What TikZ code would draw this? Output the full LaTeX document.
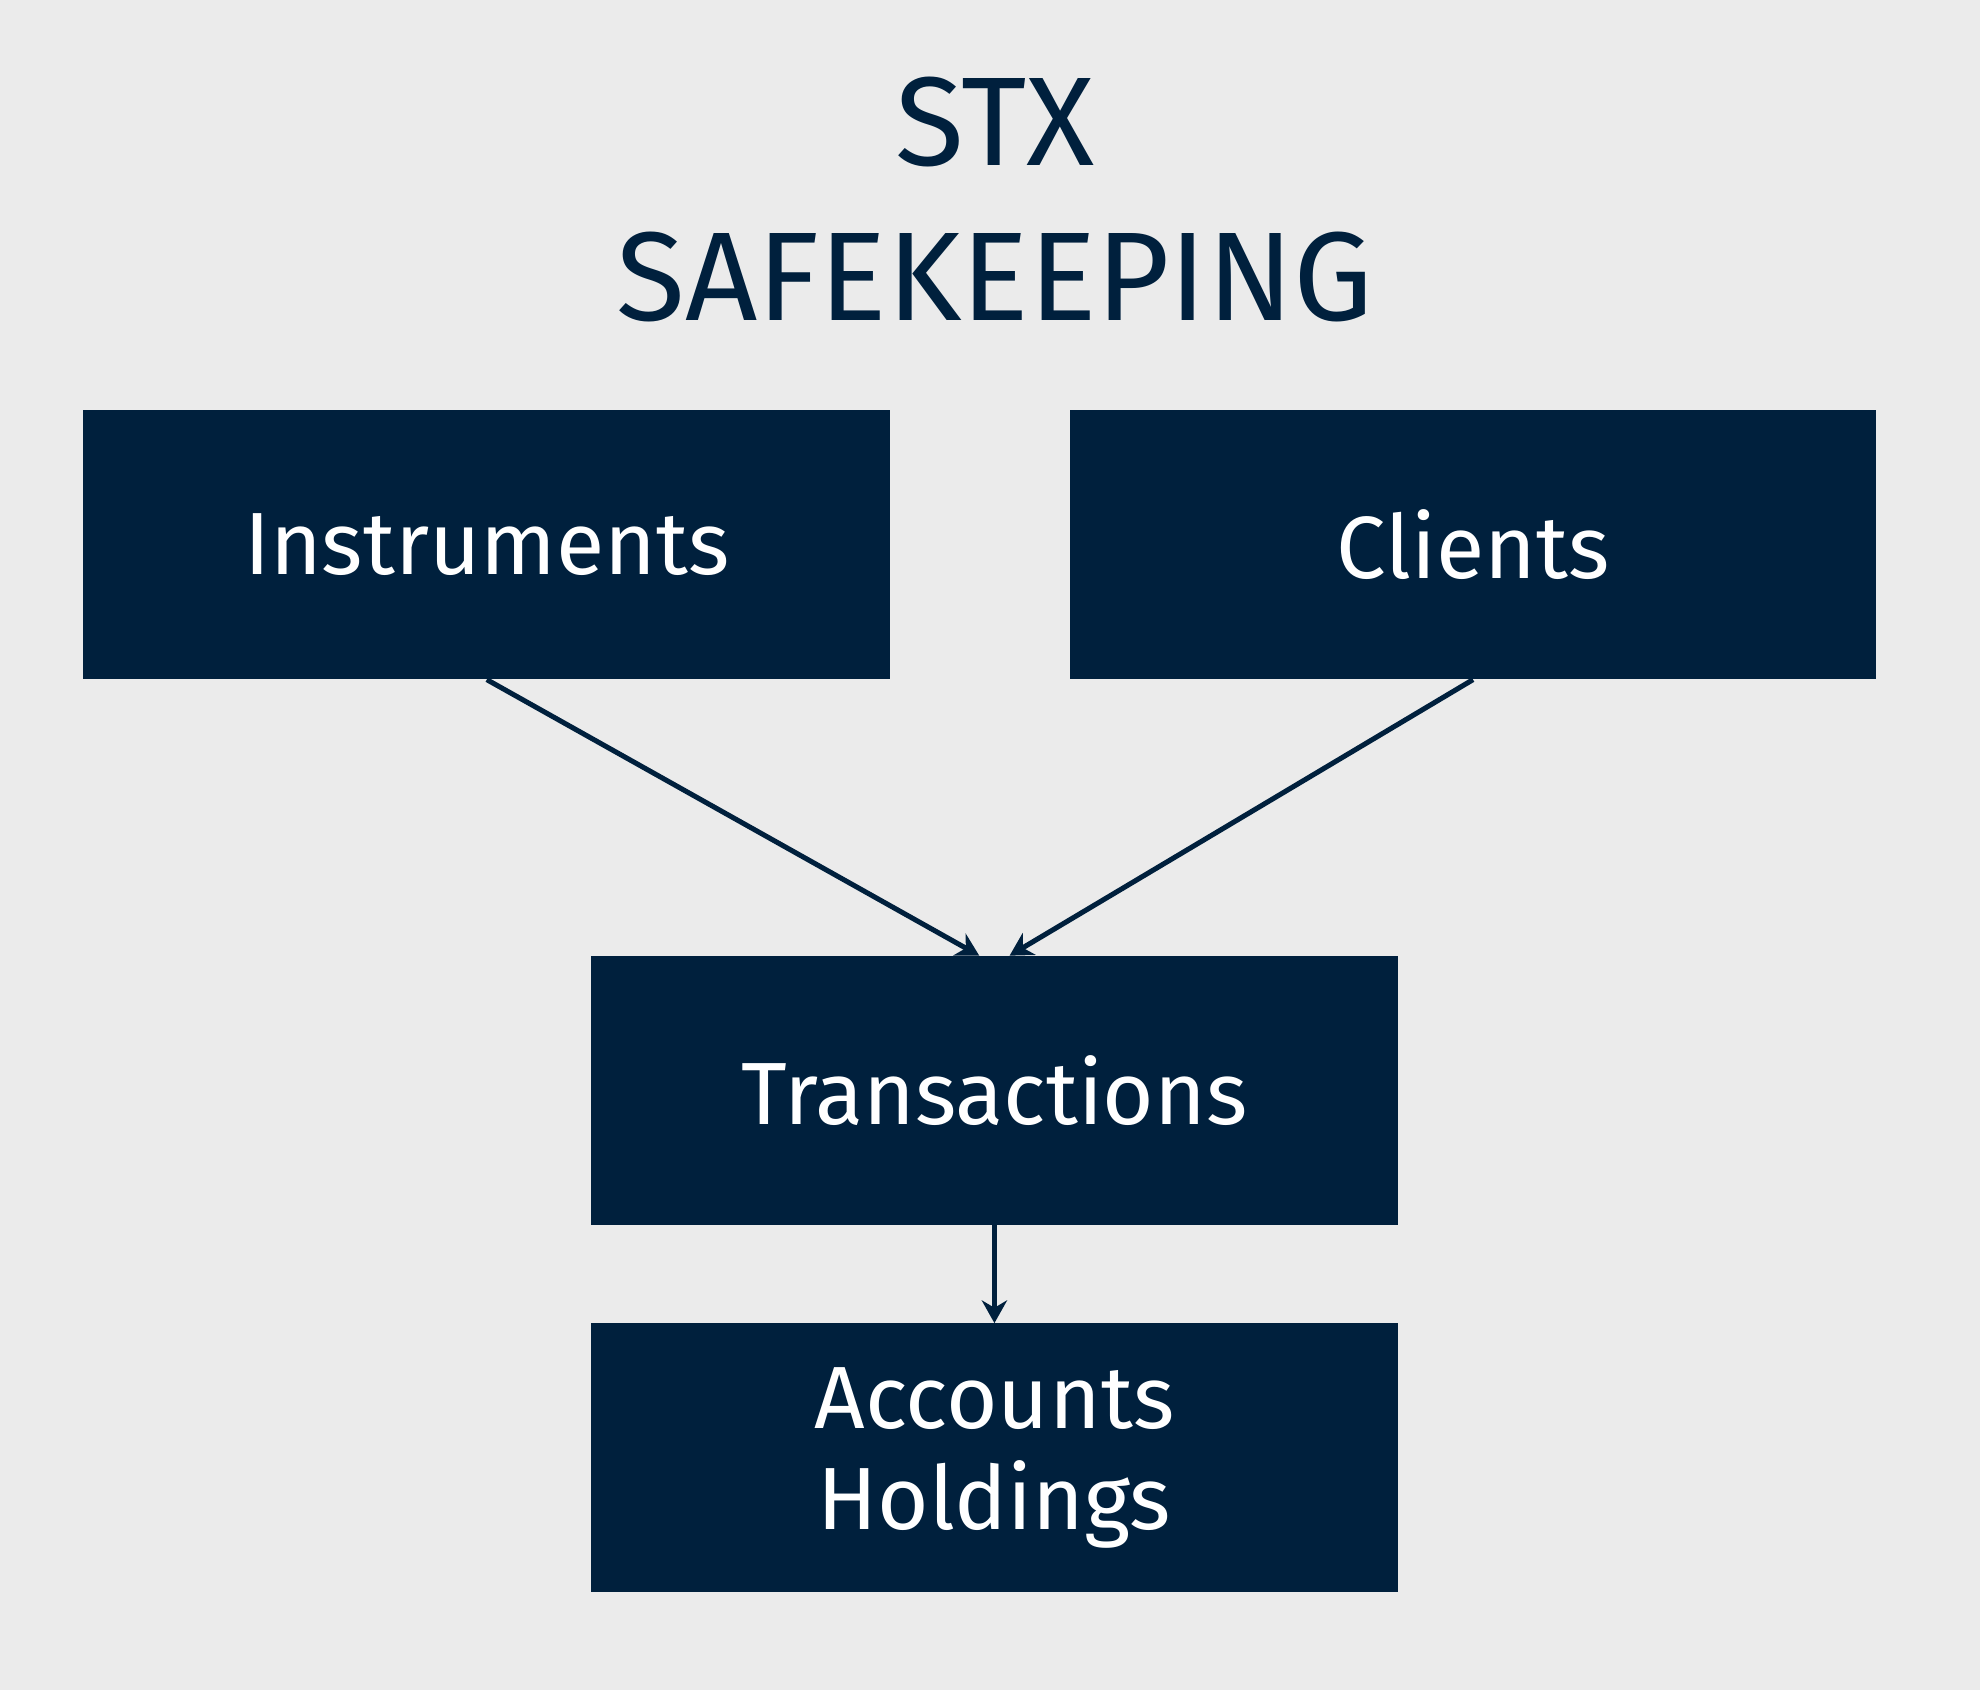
\documentclass[tikz,border=0pt]{standalone}
\usepackage{fontspec}
\setmainfont{Fira Sans}
\usetikzlibrary{arrows.meta}
\definecolor{bg}{HTML}{EBEBEB}
\definecolor{navy}{HTML}{00203D}
\begin{document}
\begin{tikzpicture}[x=1pt,y=-1pt,
  box/.style={fill=navy,draw=none,minimum width=639pt,minimum height=213pt,text=white,inner sep=0pt,align=center,font=\fontsize{70}{80}\selectfont},
  arr/.style={draw=navy,line width=4pt,-{Stealth[length=18pt,width=20pt]}}]
\fill[bg] (0,0) rectangle (1568,1338);
\useasboundingbox (0,0) rectangle (1568,1338);
\node[text=navy,align=center,font=\fontsize{100}{122}\selectfont] (title) at (788,158) {STX\\SAFEKEEPING};
\node[box] (ins) at (385.5,431.5) {Instruments};
\node[box] (cli) at (1166.5,431.5) {Clients};
\node[box] (tra) at (787.5,863.5) {Transactions};
\node[box] (acc) at (787.5,1154.5) {Accounts\\Holdings};
\coordinate (t1) at ([xshift=-12pt]tra.north);
\coordinate (t2) at ([xshift=12pt]tra.north);
\draw[arr] (ins.south) -- (t1);
\draw[arr] (cli.south) -- (t2);
\draw[arr] (tra.south) -- (acc.north);
\end{tikzpicture}
\end{document}
